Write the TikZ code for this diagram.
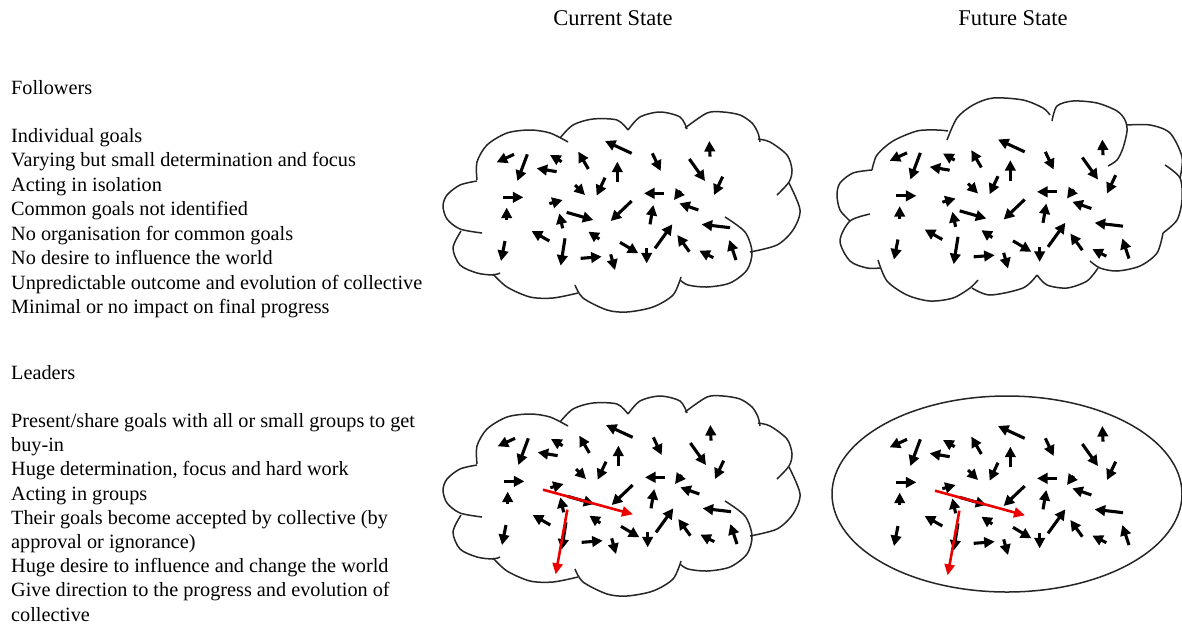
\documentclass[tikz,border=0pt]{standalone}
\usepackage{fontspec}
\setmainfont{Liberation Serif}
\usetikzlibrary{arrows.meta}
\tikzset{
  txt/.style={inner sep=0pt, anchor=base west, font=\fontsize{20.25}{24}\selectfont},
  ttl/.style={inner sep=0pt, anchor=base, font=\fontsize{22.5}{26}\selectfont},
  blk/.style={line width=3.1pt, -{Triangle[length=10.5pt,width=10.5pt]}},
  redarr/.style={line width=2.6pt, draw={rgb,255:red,235;green,0;blue,0}, -{Triangle[length=11pt,width=10pt]}, fill={rgb,255:red,235;green,0;blue,0}},
  bump/.style={line width=1.5pt, draw=black!85},
}
\newcommand\arrowfield{%
  \foreach \a/\b/\c/\d in {222/148/170/172, 262/148/232/228, 350/200/290/190,
    365/170/330/150, 445/192/415/140, 575/145/495/108, 637/145/662/198,
    810/155/808/108, 748/162/795/228, 848/215/822/270, 190/277/250/277,
    328/296/368/285, 405/240/435/270, 495/218/470/272, 532/232/532/170,
    672/265/612/265, 722/258/702/285, 775/315/718/295, 200/345/200/308,
    368/370/358/325, 380/322/460/345, 575/288/512/348, 630/358/640/300,
    870/368/785/358, 328/408/275/378, 478/402/445/380, 540/412/595/445,
    620/430/620/475, 645/430/697/358, 748/440/712/390, 820/458/778/437,
    888/465/868/405, 195/408/183/468, 375/400/362/482, 422/460/485/455,
    512/448/525/495}
  {\draw[blk] (\a/3,\b/3) -- (\c/3,\d/3);}%
}
\newcommand\redfield{%
  \draw[redarr] (306/3,302/3) -- (576/3,376/3);
  \draw[redarr] (379/3,362/3) -- (344/3,556/3);
}
\newcommand\cloudA{%
  \draw[bump] plot[smooth] coordinates {(477,181) (460,185) (447,195) (443,206) (447,219) (460,229) (482,233)};
  \draw[bump] plot[smooth] coordinates {(461,231) (453,248) (460,265) (477,273) (493,275) (500,273)};
  \draw[bump] plot[smooth] coordinates {(493,274) (507,287) (530,297) (553,298) (578,293)};
  \draw[bump] plot[smooth] coordinates {(575,285) (583,298) (607,310) (627,312) (653,307) (673,295) (681,277)};
  \draw[bump] plot[smooth] coordinates {(725,217) (745,232) (752,252) (747,270) (730,283) (707,287) (688,285) (680,280)};
  \draw[bump] plot[smooth] coordinates {(750,252) (777,245) (793,230) (800,210) (789,183)};
  \draw[bump] plot[smooth] coordinates {(777,195) (789,182) (792,170) (787,155) (770,142) (758,139)};
  \draw[bump] plot[smooth] coordinates {(685,128) (707,113) (723,112) (740,115) (752,123) (758,133) (760,142)};
  \draw[bump] plot[smooth] coordinates {(628,130) (640,117) (660,112) (680,117) (687,129)};
  \draw[bump] plot[smooth] coordinates {(560,138) (573,125) (593,119) (617,120) (628,130)};
  \draw[bump] plot[smooth] coordinates {(477,180) (477,162) (487,145) (507,133) (530,130) (550,133) (568,142)};
}
\newcommand\cloudB{%
  \draw[bump] plot[smooth] coordinates {(872,170) (853,173) (840,183) (837,195) (840,210) (850,221)};
  \draw[bump] plot[smooth] coordinates {(870,214) (850,221) (840,241) (850,261) (867,268) (880,268)};
  \draw[bump] plot[smooth] coordinates {(878,260) (887,281) (907,295) (930,301) (953,298) (970,288) (978,280)};
  \draw[bump] plot[smooth] coordinates {(972,288) (990,295) (1023,288) (1037,275)};
  \draw[bump] plot[smooth] coordinates {(1037,275) (1047,285) (1067,288) (1087,281) (1098,268)};
  \draw[bump] plot[smooth] coordinates {(1090,261) (1100,268) (1117,271) (1140,266) (1157,253) (1163,233)};
  \draw[bump] plot[smooth] coordinates {(1163,233) (1177,220) (1182,200) (1180,178) (1165,165)};
  \draw[bump] plot[smooth] coordinates {(1180,178) (1182,157) (1170,133) (1150,125) (1127,125)};
  \draw[bump] plot[smooth] coordinates {(1108,166) (1117,160) (1123,148) (1127,131) (1125,120) (1117,111) (1097,103) (1073,101) (1057,106) (1052,121)};
  \draw[bump] plot[smooth] coordinates {(947,140) (957,118) (973,105) (993,98) (1023,100) (1043,108) (1050,115)};
  \draw[bump] plot[smooth] coordinates {(872,170) (877,155) (893,141) (917,131) (937,130) (948,131)};
}
\begin{document}
\begin{tikzpicture}[x=1pt,y=-1pt]
\useasboundingbox[fill=white] (0,0) rectangle (1182,625);
% titles
\node[ttl] (t1) at (613,25) {Current State};
\node[ttl] (t2) at (1013,25) {Future State};
% followers text
\node[txt] (f0) at (11,94.5) {Followers};
\node[txt] (f1) at (11,142.5) {Individual goals};
\node[txt] (f2) at (11,166.9) {Varying but small determination and focus};
\node[txt] (f3) at (11,191.4) {Acting in isolation};
\node[txt] (f4) at (11,215.8) {Common goals not identified};
\node[txt] (f5) at (11,240.2) {No organisation for common goals};
\node[txt] (f6) at (11,264.6) {No desire to influence the world};
\node[txt] (f7) at (11,289.1) {Unpredictable outcome and evolution of collective};
\node[txt] (f8) at (11,313.5) {Minimal or no impact on final progress};
% leaders text
\node[txt] (l0) at (11,379.5) {Leaders};
\node[txt] (l1) at (11,427.5) {Present/share goals with all or small groups to get};
\node[txt] (l2) at (11,451.7) {buy-in};
\node[txt] (l3) at (11,475.9) {Huge determination, focus and hard work};
\node[txt] (l4) at (11,500.1) {Acting in groups};
\node[txt] (l5) at (11,524.3) {Their goals become accepted by collective (by};
\node[txt] (l6) at (11,548.5) {approval or ignorance)};
\node[txt] (l7) at (11,572.7) {Huge desire to influence and change the world};
\node[txt] (l8) at (11,596.9) {Give direction to the progress and evolution of};
\node[txt] (l9) at (11,621.1) {collective};
% clouds
\cloudA
\begin{scope}[shift={(0,284)}]\cloudA\end{scope}
\cloudB
\draw[bump] (1007,494) ellipse [x radius=175, y radius=98];
% arrow fields
\begin{scope}[shift={(440,105)}]\arrowfield\end{scope}
\begin{scope}[shift={(833,103.5)}]\arrowfield\end{scope}
\begin{scope}[shift={(441,389)}]\arrowfield\redfield\end{scope}
\begin{scope}[shift={(833,390)}]\arrowfield\redfield\end{scope}
\end{tikzpicture}
\end{document}
